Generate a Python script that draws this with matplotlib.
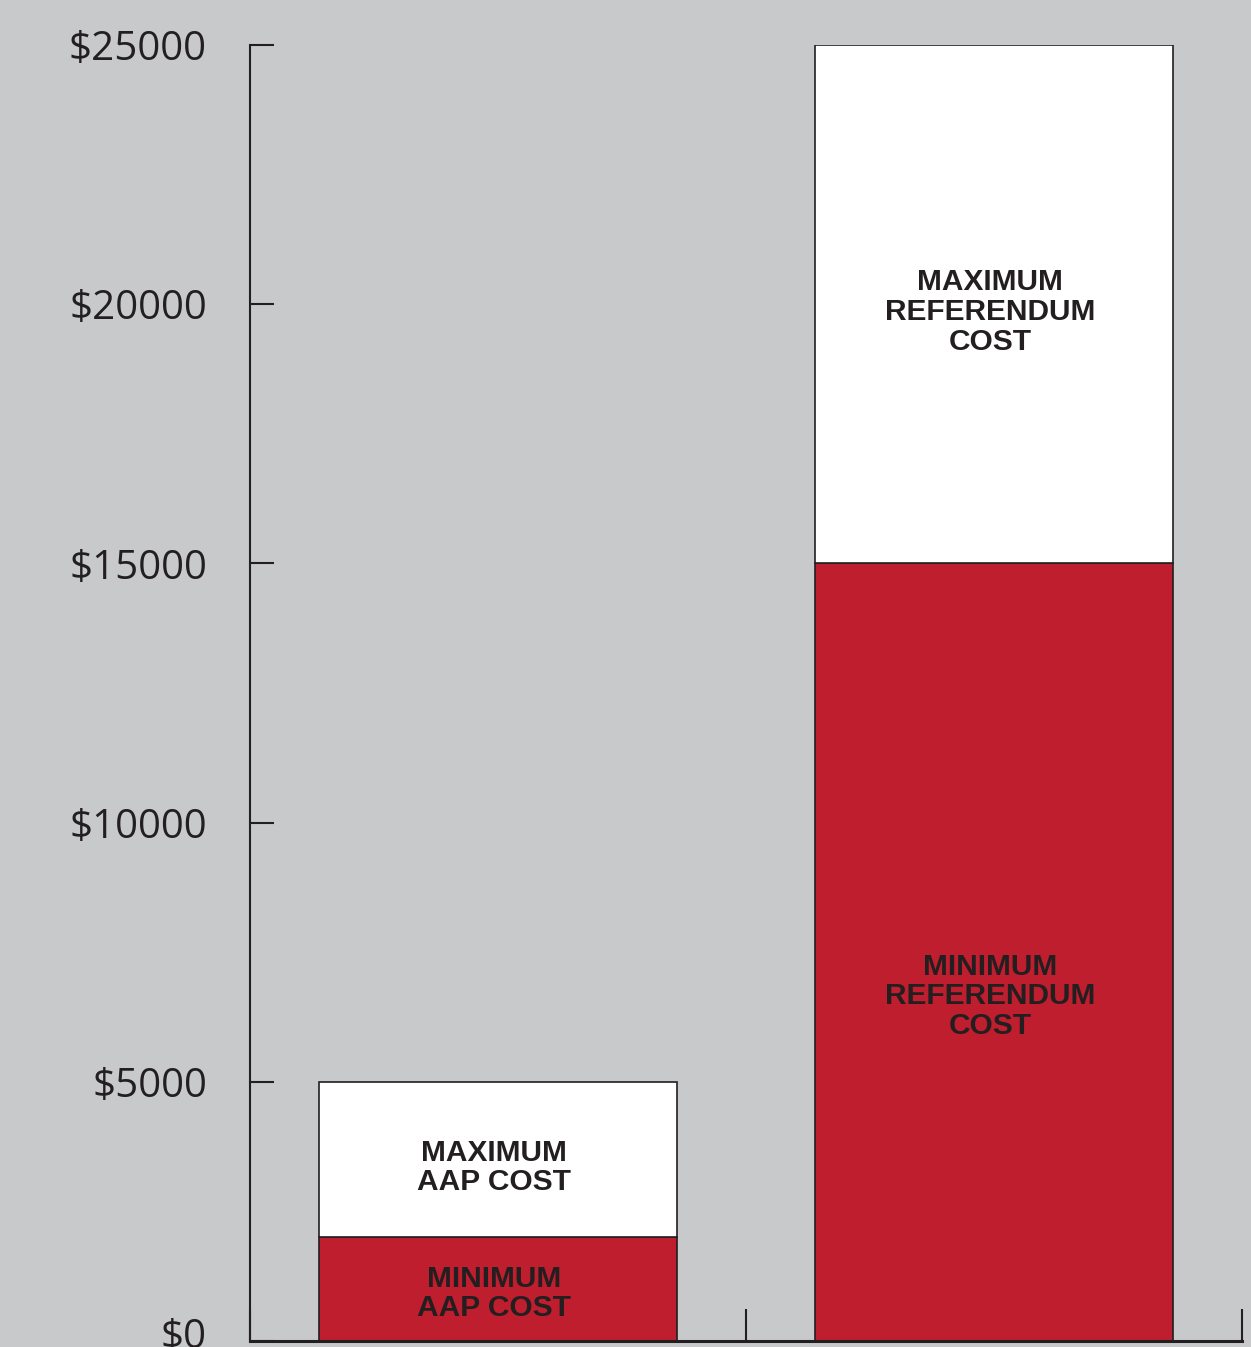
import matplotlib.pyplot as plt
from matplotlib.transforms import ScaledTranslation

# values
groups = ["AAP", "Referendum"]
min_cost = [2000, 15000]
max_cost = [5000, 25000]
min_labels = ["MINIMUM\nAAP COST", "MINIMUM\nREFERENDUM\nCOST"]
max_labels = ["MAXIMUM\nAAP COST", "MAXIMUM\nREFERENDUM\nCOST"]
y_ticks = [0, 5000, 10000, 15000, 20000, 25000]
y_tick_labels = ["$0", "$5000", "$10000", "$15000", "$20000", "$25000"]

bg = "#c8c9cb"
red = "#be1e2d"
ink = "#231f20"

fig = plt.figure(figsize=(12.51, 13.47), dpi=100, facecolor=bg)
ax = fig.add_axes([250 / 1251, 6 / 1347, 992 / 1251, 1296 / 1347])
ax.set_facecolor(bg)

x = list(range(len(groups)))
extra = [hi - lo for lo, hi in zip(min_cost, max_cost)]
ax.bar(x, min_cost, width=0.72, color=red, edgecolor=ink, linewidth=1.2)
ax.bar(x, extra, bottom=min_cost, width=0.72, color="white", edgecolor=ink, linewidth=1.2)

font = dict(family="Liberation Sans", fontweight="bold", fontsize=21.5, color=ink,
            ha="center", va="center", linespacing=1.07)
for i in x:
    ax.text(i - 0.008, (max_cost[i] + min_cost[i]) / 2 - 150, max_labels[i], **font)
# min labels sit a bit above the segment middle for the tall bar
ax.text(0 - 0.008, min_cost[0] / 2 - 80, min_labels[0], **font)
ax.text(1 - 0.008, 6650, min_labels[1], **font)

ax.set_xlim(-0.5, 1.5)
ax.set_ylim(0, 25000)
ax.set_xticks([-0.5, 0.5, 1.5])
ax.set_xticklabels([])
ax.set_yticks(y_ticks)
ax.set_yticklabels(y_tick_labels, family="Open Sans", fontsize=29, color=ink)
ax.tick_params(axis="y", direction="in", length=17, width=1.5, color=ink, pad=31)
ax.tick_params(axis="x", direction="in", length=23, width=1.5, color=ink)

# the $0 label sits a little higher than its tick
lbl0 = ax.yaxis.get_major_ticks()[0].label1
lbl0.set_transform(lbl0.get_transform() + ScaledTranslation(0, 8 / 100, fig.dpi_scale_trans))

for side in ["top", "right"]:
    ax.spines[side].set_visible(False)
ax.spines["left"].set_linewidth(1.5)
ax.spines["bottom"].set_linewidth(2.2)
for side in ["left", "bottom"]:
    ax.spines[side].set_color(ink)
ax.spines["bottom"].set_zorder(5)

fig.savefig("out.png", dpi=100, facecolor=bg)
